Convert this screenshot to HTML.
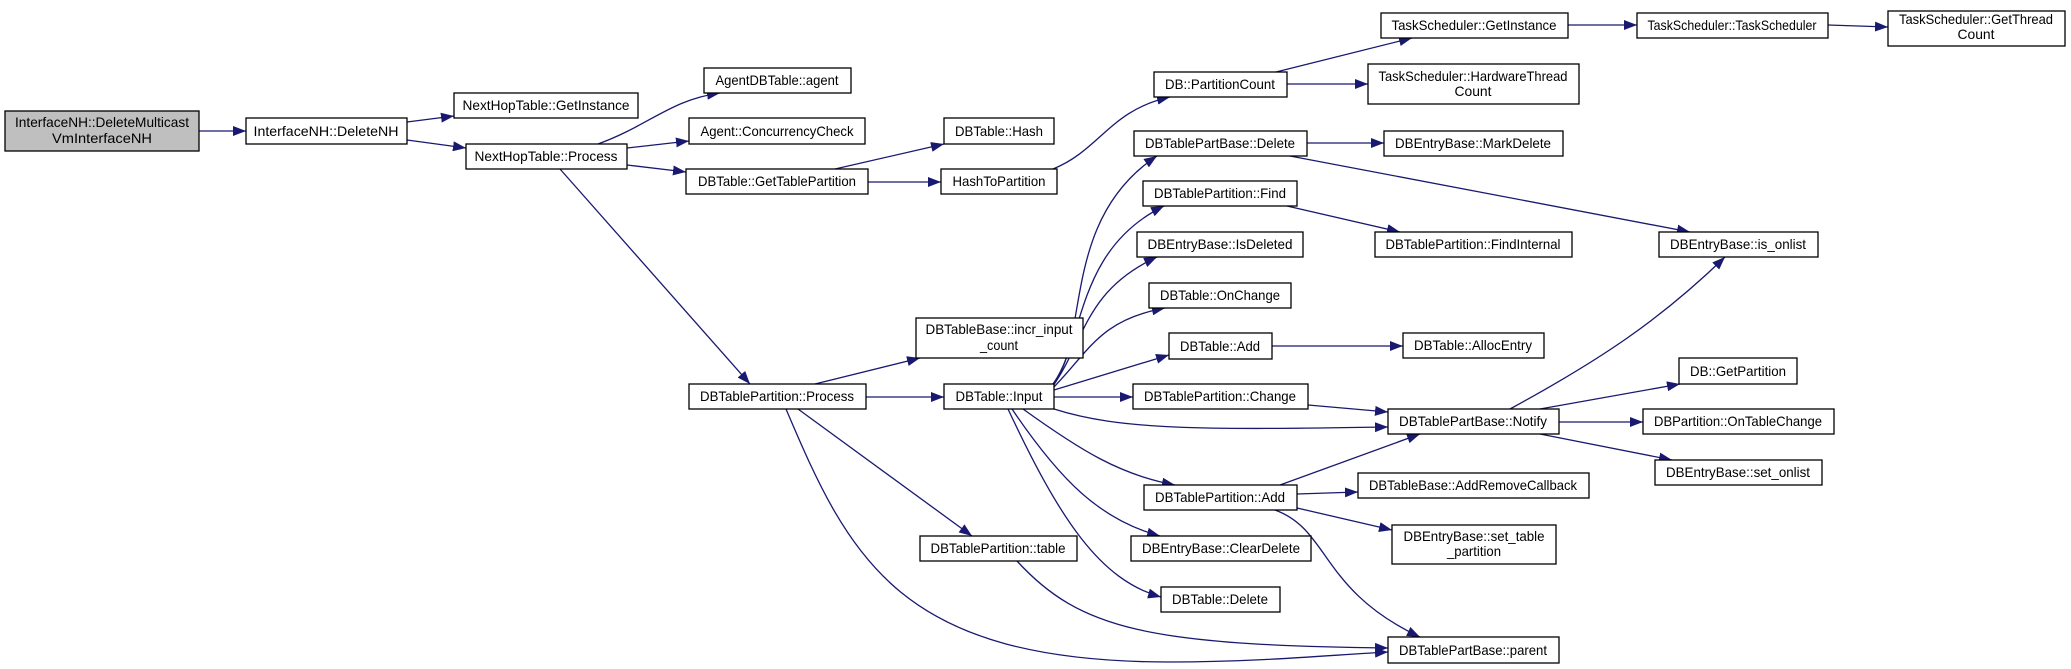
<!DOCTYPE html>
<html><head><meta charset="utf-8"><style>
html,body{margin:0;padding:0;background:#fff;width:2071px;height:669px;overflow:hidden}
svg text{font-family:"Liberation Sans",sans-serif;font-size:14px;fill:#000}
</style></head><body>
<svg width="2071" height="669" viewBox="0 0 2071 669" xmlns="http://www.w3.org/2000/svg">
<defs><marker id="a" markerUnits="userSpaceOnUse" markerWidth="14" markerHeight="10" refX="13" refY="5" orient="auto"><path d="M0,0 L13,5 L0,10 Z" fill="#191970"/></marker></defs>
<g fill="none" stroke="#191970" stroke-width="1.3" marker-end="url(#a)">
<path d="M199,131 L246,131"/>
<path d="M407,122 L454,116"/>
<path d="M407,140 L466,148"/>
<path d="M598,144 C650,125 670,100 720,93"/>
<path d="M627,148 L689,141"/>
<path d="M627,165 L686,172"/>
<path d="M560,169 L750,384"/>
<path d="M835,169 L944,144"/>
<path d="M868,182 L941,182"/>
<path d="M1053,169 C1100,150 1110,110 1170,97"/>
<path d="M1276,72 L1412,38"/>
<path d="M1287,84 L1368,84"/>
<path d="M1567,25 L1637,25"/>
<path d="M1828,25 L1888,27"/>
<path d="M815,384 L920,358"/>
<path d="M866,397 L944,397"/>
<path d="M798,409 L972,536"/>
<path d="M786,409 C850,560 900,662 1170,662 C1260,662 1330,655 1388,652"/>
<path d="M1017,561 C1080,630 1150,645 1388,648"/>
<path d="M1053,384 C1090,340 1060,220 1157,156"/>
<path d="M1053,384 C1085,340 1075,250 1164,206"/>
<path d="M1053,386 C1085,340 1085,290 1157,257"/>
<path d="M1053,388 C1090,350 1100,320 1165,308"/>
<path d="M1054,390 L1169,355"/>
<path d="M1054,397 L1133,397"/>
<path d="M1054,409 C1120,430 1200,430 1388,427"/>
<path d="M1023,409 C1080,450 1120,475 1175,485"/>
<path d="M1012,409 C1060,480 1100,520 1160,536"/>
<path d="M1008,409 C1060,520 1100,580 1161,597"/>
<path d="M1307,143 L1384,143"/>
<path d="M1290,156 L1690,232"/>
<path d="M1287,206 L1400,232"/>
<path d="M1272,346 L1403,346"/>
<path d="M1308,405 L1388,412"/>
<path d="M1280,485 L1420,434"/>
<path d="M1297,494 L1358,492"/>
<path d="M1297,508 L1392,530"/>
<path d="M1275,510 C1330,530 1320,590 1420,637"/>
<path d="M1510,409 C1600,360 1660,320 1725,257"/>
<path d="M1540,409 L1680,384"/>
<path d="M1559,422 L1643,422"/>
<path d="M1540,434 L1672,460"/>
</g>
<g stroke="#000" stroke-width="1.3" fill="#fff">
<rect x="5" y="111" width="194" height="40" fill="#bfbfbf"/>
<rect x="246" y="118" width="161" height="26"/>
<rect x="454" y="93" width="184" height="25"/>
<rect x="466" y="144" width="161" height="25"/>
<rect x="704" y="68" width="147" height="25"/>
<rect x="689" y="118" width="176" height="26"/>
<rect x="686" y="169" width="182" height="25"/>
<rect x="944" y="118" width="110" height="26"/>
<rect x="941" y="169" width="116" height="25"/>
<rect x="1154" y="72" width="133" height="25"/>
<rect x="1134" y="131" width="173" height="25"/>
<rect x="1143" y="181" width="154" height="25"/>
<rect x="1137" y="232" width="166" height="25"/>
<rect x="1149" y="283" width="142" height="25"/>
<rect x="916" y="318" width="167" height="40"/>
<rect x="1169" y="333" width="103" height="26"/>
<rect x="689" y="384" width="177" height="25"/>
<rect x="944" y="384" width="110" height="25"/>
<rect x="1133" y="384" width="175" height="25"/>
<rect x="1144" y="485" width="153" height="25"/>
<rect x="920" y="536" width="157" height="25"/>
<rect x="1131" y="536" width="180" height="25"/>
<rect x="1161" y="587" width="119" height="25"/>
<rect x="1381" y="13" width="187" height="25"/>
<rect x="1637" y="13" width="191" height="25"/>
<rect x="1888" y="11" width="177" height="35"/>
<rect x="1368" y="64" width="211" height="40"/>
<rect x="1384" y="131" width="179" height="25"/>
<rect x="1375" y="232" width="197" height="25"/>
<rect x="1659" y="232" width="159" height="25"/>
<rect x="1403" y="333" width="141" height="25"/>
<rect x="1679" y="358" width="118" height="26"/>
<rect x="1388" y="409" width="171" height="25"/>
<rect x="1643" y="409" width="191" height="25"/>
<rect x="1655" y="460" width="167" height="25"/>
<rect x="1358" y="473" width="231" height="25"/>
<rect x="1392" y="525" width="164" height="39"/>
<rect x="1388" y="637" width="171" height="26"/>
</g>
<g text-anchor="middle" lengthAdjust="spacingAndGlyphs">
<text x="102" y="127" textLength="174" lengthAdjust="spacingAndGlyphs">InterfaceNH::DeleteMulticast</text>
<text x="102" y="143" textLength="100" lengthAdjust="spacingAndGlyphs">VmInterfaceNH</text>
<text x="326" y="136" textLength="145" lengthAdjust="spacingAndGlyphs">InterfaceNH::DeleteNH</text>
<text x="546" y="110" textLength="167" lengthAdjust="spacingAndGlyphs">NextHopTable::GetInstance</text>
<text x="546" y="161" textLength="143" lengthAdjust="spacingAndGlyphs">NextHopTable::Process</text>
<text x="777" y="85" textLength="123" lengthAdjust="spacingAndGlyphs">AgentDBTable::agent</text>
<text x="777" y="136" textLength="153" lengthAdjust="spacingAndGlyphs">Agent::ConcurrencyCheck</text>
<text x="777" y="186" textLength="158" lengthAdjust="spacingAndGlyphs">DBTable::GetTablePartition</text>
<text x="999" y="136" textLength="88" lengthAdjust="spacingAndGlyphs">DBTable::Hash</text>
<text x="999" y="186" textLength="93" lengthAdjust="spacingAndGlyphs">HashToPartition</text>
<text x="1220" y="89" textLength="110" lengthAdjust="spacingAndGlyphs">DB::PartitionCount</text>
<text x="1220" y="148" textLength="150" lengthAdjust="spacingAndGlyphs">DBTablePartBase::Delete</text>
<text x="1220" y="198" textLength="132" lengthAdjust="spacingAndGlyphs">DBTablePartition::Find</text>
<text x="1220" y="249" textLength="145" lengthAdjust="spacingAndGlyphs">DBEntryBase::IsDeleted</text>
<text x="1220" y="300" textLength="120" lengthAdjust="spacingAndGlyphs">DBTable::OnChange</text>
<text x="999" y="334" textLength="147" lengthAdjust="spacingAndGlyphs">DBTableBase::incr_input</text>
<text x="999" y="350" textLength="38" lengthAdjust="spacingAndGlyphs">_count</text>
<text x="1220" y="351" textLength="80" lengthAdjust="spacingAndGlyphs">DBTable::Add</text>
<text x="777" y="401" textLength="154" lengthAdjust="spacingAndGlyphs">DBTablePartition::Process</text>
<text x="999" y="401" textLength="87" lengthAdjust="spacingAndGlyphs">DBTable::Input</text>
<text x="1220" y="401" textLength="152" lengthAdjust="spacingAndGlyphs">DBTablePartition::Change</text>
<text x="1220" y="502" textLength="130" lengthAdjust="spacingAndGlyphs">DBTablePartition::Add</text>
<text x="998" y="553" textLength="135" lengthAdjust="spacingAndGlyphs">DBTablePartition::table</text>
<text x="1221" y="553" textLength="158" lengthAdjust="spacingAndGlyphs">DBEntryBase::ClearDelete</text>
<text x="1220" y="604" textLength="96" lengthAdjust="spacingAndGlyphs">DBTable::Delete</text>
<text x="1474" y="30" textLength="165" lengthAdjust="spacingAndGlyphs">TaskScheduler::GetInstance</text>
<text x="1732" y="30" textLength="169" lengthAdjust="spacingAndGlyphs">TaskScheduler::TaskScheduler</text>
<text x="1976" y="24" textLength="154" lengthAdjust="spacingAndGlyphs">TaskScheduler::GetThread</text>
<text x="1976" y="39" textLength="37" lengthAdjust="spacingAndGlyphs">Count</text>
<text x="1473" y="81" textLength="189" lengthAdjust="spacingAndGlyphs">TaskScheduler::HardwareThread</text>
<text x="1473" y="96" textLength="37" lengthAdjust="spacingAndGlyphs">Count</text>
<text x="1473" y="148" textLength="156" lengthAdjust="spacingAndGlyphs">DBEntryBase::MarkDelete</text>
<text x="1473" y="249" textLength="175" lengthAdjust="spacingAndGlyphs">DBTablePartition::FindInternal</text>
<text x="1738" y="249" textLength="136" lengthAdjust="spacingAndGlyphs">DBEntryBase::is_onlist</text>
<text x="1473" y="350" textLength="118" lengthAdjust="spacingAndGlyphs">DBTable::AllocEntry</text>
<text x="1738" y="376" textLength="96" lengthAdjust="spacingAndGlyphs">DB::GetPartition</text>
<text x="1473" y="426" textLength="148" lengthAdjust="spacingAndGlyphs">DBTablePartBase::Notify</text>
<text x="1738" y="426" textLength="168" lengthAdjust="spacingAndGlyphs">DBPartition::OnTableChange</text>
<text x="1738" y="477" textLength="144" lengthAdjust="spacingAndGlyphs">DBEntryBase::set_onlist</text>
<text x="1473" y="490" textLength="208" lengthAdjust="spacingAndGlyphs">DBTableBase::AddRemoveCallback</text>
<text x="1474" y="541" textLength="141" lengthAdjust="spacingAndGlyphs">DBEntryBase::set_table</text>
<text x="1474" y="556" textLength="54" lengthAdjust="spacingAndGlyphs">_partition</text>
<text x="1473" y="655" textLength="148" lengthAdjust="spacingAndGlyphs">DBTablePartBase::parent</text>
</g>
</svg>
</body></html>
